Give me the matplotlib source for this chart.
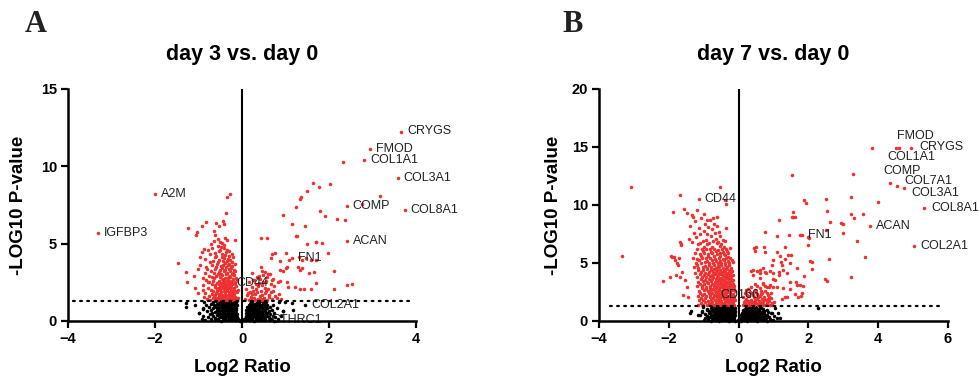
import matplotlib
matplotlib.use("Agg")
import matplotlib.pyplot as plt

plt.rcParams["font.family"] = ["Liberation Sans", "DejaVu Sans"]

RED = "#ee3030"
P_CUTOFF = 1.3  # -log10(0.05)

# ---------------- day 3 vs. day 0 ----------------
d3_genes = ["CRYGS", "FMOD", "COL1A1", "COL3A1", "COMP", "COL8A1", "ACAN",
            "FN1", "CD44", "COL2A1", "CTHRC1", "A2M", "IGFBP3"]
d3_gene_lfc = [3.66, 2.95, 2.81, 3.58, 2.41, 3.74, 2.41, 1.14, -0.26, 1.45, 0.53, -2.01, -3.32]
d3_gene_p = [12.2, 11.1, 10.4, 9.24, 7.41, 7.15, 5.15, 4.05, 2.43, 1.05, 0.06, 8.23, 5.71]

d3_up = [(1.63, 8.94), (1.78, 8.68), (2.03, 8.83), (1.49, 8.38), (1.36, 8.0), (1.33, 7.9),
         (1.25, 7.37), (0.95, 6.85), (1.79, 7.11), (1.91, 6.77), (2.18, 6.62), (2.36, 6.55),
         (3.18, 8.06), (2.75, 7.56), (2.33, 10.3), (1.16, 6.25), (1.44, 6.14), (0.43, 5.34),
         (0.58, 5.39), (1.25, 5.52), (1.49, 4.96), (1.70, 5.11), (1.85, 5.02), (1.97, 4.4),
         (0.68, 4.33), (0.75, 4.37), (1.0, 4.4), (0.66, 4.09), (0.87, 3.88), (1.08, 3.92),
         (1.30, 4.16), (1.38, 3.94), (1.48, 4.05), (1.59, 3.94), (1.69, 3.92), (0.43, 3.47),
         (0.47, 3.25), (0.54, 3.19), (0.49, 2.97), (0.59, 3.02), (0.88, 3.28), (0.95, 3.23),
         (1.0, 3.45), (1.04, 3.51), (1.28, 3.51), (1.33, 3.3), (1.39, 3.41), (1.55, 3.08),
         (1.66, 3.17), (2.12, 3.23), (0.23, 3.1), (0.34, 2.86), (0.25, 2.63), (0.32, 2.39),
         (0.42, 2.7), (0.70, 2.65), (0.82, 2.52), (0.87, 2.61), (1.03, 2.54), (1.06, 2.22),
         (1.22, 2.18), (1.33, 2.05), (1.43, 2.05), (1.59, 2.05), (1.69, 2.48), (2.11, 2.07),
         (2.42, 2.33), (2.54, 2.37), (1.69, 5.09), (1.26, 5.49)]

d3_up_near = [(0.08, 1.42), (0.12, 1.65), (0.15, 1.38), (0.18, 1.9), (0.21, 1.55), (0.24, 2.2),
              (0.27, 1.47), (0.3, 1.75), (0.33, 2.05), (0.36, 1.4), (0.38, 2.45), (0.41, 1.6),
              (0.44, 1.95), (0.47, 2.3), (0.5, 1.5), (0.52, 1.8), (0.55, 2.6), (0.57, 1.35),
              (0.6, 2.1), (0.63, 1.7), (0.66, 2.4), (0.69, 1.45), (0.72, 1.95), (0.76, 1.6),
              (0.1, 2.1), (0.17, 2.55), (0.22, 1.75), (0.28, 2.65), (0.35, 1.85), (0.4, 2.9),
              (0.46, 1.7), (0.53, 2.15), (0.58, 2.85), (0.62, 1.55), (0.67, 1.85), (0.74, 2.25),
              (0.8, 1.5), (0.85, 1.75), (0.9, 1.45), (0.31, 1.38), (0.43, 1.45), (0.49, 2.55),
              (0.26, 1.95), (0.14, 1.8), (0.37, 2.25), (0.71, 2.7), (0.64, 3.05), (0.56, 1.95),
              (0.45, 1.37), (0.2, 1.48)]

d3_down = [(-0.27, 8.23), (-0.34, 8.04), (-0.37, 6.96), (-0.44, 6.46), (-0.42, 6.27),
           (-0.53, 6.14), (-0.59, 6.35), (-0.83, 6.4), (-0.91, 6.12), (-1.04, 5.77),
           (-1.25, 5.99), (-1.05, 5.58), (-0.64, 5.82), (-0.61, 5.56), (-1.47, 3.73),
           (-1.29, 3.15), (-1.26, 2.5), (-1.11, 2.91), (-1.08, 2.15), (-1.02, 1.79),
           (-0.89, 1.98), (-0.87, 4.67), (-0.91, 4.44), (-0.97, 4.15), (-0.83, 3.51),
           (-0.97, 3.62), (-1.02, 3.36), (-0.90, 2.76), (-0.79, 2.54), (-0.15, 5.24)]

d3_down_core = [(-0.88, 1.52), (-0.9, 2.31), (-0.86, 3.08), (-0.84, 1.83), (-0.83, 2.68), (-0.85, 4.02),
                (-0.8, 1.41), (-0.79, 2.12), (-0.81, 3.38), (-0.78, 4.58), (-0.76, 1.63), (-0.75, 2.49),
                (-0.77, 2.93), (-0.74, 3.81), (-0.73, 1.36), (-0.72, 2.03), (-0.71, 3.22), (-0.73, 4.31),
                (-0.72, 4.97), (-0.7, 1.72), (-0.69, 2.41), (-0.7, 2.82), (-0.68, 3.63), (-0.67, 1.46),
                (-0.66, 1.94), (-0.67, 2.61), (-0.65, 3.12), (-0.66, 3.91), (-0.68, 4.72), (-0.64, 1.57),
                (-0.63, 2.22), (-0.64, 2.76), (-0.62, 3.36), (-0.63, 4.11), (-0.65, 5.18), (-0.61, 1.41),
                (-0.6, 1.81), (-0.61, 2.32), (-0.59, 2.91), (-0.6, 3.52), (-0.62, 4.42), (-0.58, 1.51),
                (-0.57, 1.92), (-0.58, 2.46), (-0.56, 3.01), (-0.57, 3.71), (-0.59, 4.21), (-0.56, 4.88),
                (-0.55, 1.36), (-0.54, 1.76), (-0.55, 2.16), (-0.53, 2.61), (-0.54, 3.16), (-0.55, 3.82),
                (-0.53, 4.51), (-0.56, 5.29), (-0.52, 1.61), (-0.51, 2.01), (-0.52, 2.36), (-0.5, 2.86),
                (-0.51, 3.31), (-0.52, 3.96), (-0.5, 4.62), (-0.49, 1.46), (-0.48, 1.86), (-0.49, 2.26),
                (-0.47, 2.71), (-0.48, 3.06), (-0.49, 3.56), (-0.47, 4.16), (-0.48, 4.81), (-0.5, 5.12),
                (-0.46, 1.41), (-0.45, 1.71), (-0.46, 2.11), (-0.44, 2.51), (-0.45, 2.96), (-0.46, 3.41),
                (-0.44, 3.91), (-0.45, 4.36), (-0.46, 5.02), (-0.43, 1.56), (-0.42, 1.96), (-0.43, 2.31),
                (-0.41, 2.66), (-0.42, 3.21), (-0.43, 3.61), (-0.41, 4.06), (-0.42, 4.71), (-0.4, 1.36),
                (-0.39, 1.76), (-0.4, 2.06), (-0.38, 2.46), (-0.39, 2.81), (-0.4, 3.31), (-0.38, 3.76),
                (-0.39, 4.26), (-0.41, 4.91), (-0.4, 5.38), (-0.37, 1.51), (-0.36, 1.91), (-0.37, 2.21),
                (-0.35, 2.61), (-0.36, 3.01), (-0.37, 3.46), (-0.35, 3.86), (-0.36, 4.46), (-0.34, 1.41),
                (-0.33, 1.66), (-0.34, 2.01), (-0.32, 2.41), (-0.33, 2.76), (-0.34, 3.11), (-0.32, 3.61),
                (-0.33, 4.01), (-0.35, 4.61), (-0.34, 5.21), (-0.31, 1.56), (-0.3, 1.86), (-0.31, 2.31),
                (-0.29, 2.56), (-0.3, 2.91), (-0.31, 3.36), (-0.29, 3.71), (-0.3, 4.21), (-0.28, 1.36),
                (-0.27, 1.71), (-0.28, 2.11), (-0.26, 2.46), (-0.27, 2.86), (-0.28, 3.21), (-0.26, 3.51),
                (-0.27, 3.96), (-0.29, 4.51), (-0.25, 1.46), (-0.24, 1.81), (-0.25, 2.21), (-0.23, 2.61),
                (-0.24, 3.06), (-0.25, 3.41), (-0.23, 3.81), (-0.24, 4.31), (-0.22, 1.61), (-0.21, 1.96),
                (-0.22, 2.36), (-0.2, 2.71), (-0.21, 3.11), (-0.22, 3.56), (-0.2, 4.11), (-0.19, 1.41),
                (-0.18, 1.76), (-0.19, 2.16), (-0.17, 2.51), (-0.18, 2.96), (-0.19, 3.31), (-0.17, 3.71),
                (-0.16, 1.56), (-0.15, 1.91), (-0.16, 2.41), (-0.14, 2.81), (-0.15, 3.26), (-0.13, 1.46),
                (-0.12, 1.86), (-0.13, 2.26), (-0.11, 2.66), (-0.1, 1.51), (-0.09, 2.01),
                (-0.62, 1.66), (-0.57, 1.33), (-0.53, 1.48), (-0.47, 1.55), (-0.44, 1.33), (-0.38, 1.62),
                (-0.35, 1.38), (-0.31, 1.72), (-0.27, 1.52), (-0.24, 1.34), (-0.21, 1.49), (-0.18, 1.63),
                (-0.58, 2.08), (-0.5, 2.18), (-0.41, 2.18), (-0.33, 2.16), (-0.26, 2.03), (-0.48, 2.44),
                (-0.36, 2.35), (-0.29, 2.4)]

d3_flat = [(-0.86, 0.04), (-0.63, 0.05), (-0.49, 0.03), (-0.36, 0.06), (-0.23, 0.04), (-0.12, 0.05),
           (-0.04, 0.03), (0.03, 0.05), (0.1, 0.04), (0.19, 0.06), (0.28, 0.03), (0.37, 0.05),
           (0.48, 0.04), (0.61, 0.06), (0.73, 0.03),
           (-0.92, 0.13), (-0.71, 0.12), (-0.56, 0.14), (-0.42, 0.13), (-0.3, 0.15), (-0.19, 0.12),
           (-0.09, 0.14), (0.05, 0.13), (0.14, 0.15), (0.23, 0.12), (0.33, 0.14), (0.43, 0.13),
           (0.54, 0.15), (0.67, 0.12), (0.83, 0.14),
           (-0.78, 0.23), (-0.61, 0.22), (-0.47, 0.24), (-0.36, 0.23), (-0.26, 0.25), (-0.16, 0.22),
           (0.09, 0.24), (0.19, 0.23), (0.29, 0.25), (0.39, 0.22), (0.5, 0.24), (0.62, 0.23), (0.77, 0.25),
           (-0.89, 0.33), (-0.66, 0.32), (-0.53, 0.34), (-0.42, 0.33), (-0.32, 0.35), (-0.22, 0.32),
           (-0.13, 0.34), (0.1, 0.33), (0.18, 0.35), (0.26, 0.32), (0.35, 0.34), (0.45, 0.33),
           (0.57, 0.35), (0.71, 0.32), (0.9, 0.34),
           (-0.74, 0.43), (-0.58, 0.42), (-0.46, 0.44), (-0.37, 0.43), (-0.27, 0.45), (-0.17, 0.42),
           (0.12, 0.44), (0.21, 0.43), (0.3, 0.45), (0.4, 0.42), (0.52, 0.44), (0.64, 0.43),
           (-0.98, 0.52), (-0.69, 0.51), (-0.55, 0.53), (-0.44, 0.52), (-0.33, 0.54), (-0.23, 0.51),
           (-0.14, 0.53), (0.09, 0.52), (0.17, 0.54), (0.27, 0.51), (0.36, 0.53), (0.46, 0.52),
           (0.57, 0.54), (0.74, 0.51),
           (-0.81, 0.62), (-0.62, 0.61), (-0.5, 0.63), (-0.39, 0.62), (-0.29, 0.64), (-0.19, 0.61),
           (0.13, 0.63), (0.22, 0.62), (0.32, 0.64), (0.42, 0.61), (0.52, 0.63), (0.63, 0.62), (0.95, 0.64),
           (-0.72, 0.72), (-0.57, 0.71), (-0.45, 0.73), (-0.35, 0.72), (-0.25, 0.74), (-0.15, 0.71),
           (0.1, 0.73), (0.19, 0.72), (0.28, 0.74), (0.4, 0.71), (0.53, 0.73), (0.68, 0.72),
           (-0.9, 0.82), (-0.66, 0.81), (-0.52, 0.83), (-0.41, 0.82), (-0.31, 0.84), (-0.21, 0.81),
           (-0.13, 0.83), (0.14, 0.82), (0.23, 0.84), (0.33, 0.81), (0.45, 0.83), (0.58, 0.82), (0.8, 0.84),
           (-0.76, 0.92), (-0.6, 0.91), (-0.47, 0.93), (-0.37, 0.92), (-0.27, 0.94), (-0.17, 0.91),
           (0.11, 0.93), (0.2, 0.92), (0.3, 0.94), (0.41, 0.91), (0.52, 0.93), (0.64, 0.92),
           (-1.08, 1.02), (-0.83, 1.01), (-0.64, 1.03), (-0.52, 1.02), (-0.42, 1.04), (-0.32, 1.01),
           (-0.22, 1.03), (-0.14, 1.02), (0.15, 1.04), (0.25, 1.01), (0.35, 1.03), (0.46, 1.02),
           (0.58, 1.04), (0.72, 1.01),
           (-0.71, 1.12), (-0.58, 1.11), (-0.46, 1.13), (-0.36, 1.12), (-0.26, 1.14), (-0.16, 1.11),
           (0.18, 1.13), (0.28, 1.12), (0.39, 1.14), (0.5, 1.11), (1.14, 1.18),
           (-1.29, 1.18), (-0.88, 1.22), (-0.66, 1.21), (-0.54, 1.23), (-0.43, 1.22), (-0.33, 1.24),
           (-0.23, 1.21), (-0.14, 1.23), (0.21, 1.22), (0.34, 1.24), (0.48, 1.21), (0.99, 1.2),
           (-0.55, 0.08), (-0.43, 0.09), (-0.28, 0.07), (-0.16, 0.08), (-0.08, 0.09), (0.0, 0.07),
           (0.07, 0.08), (0.16, 0.09), (0.24, 0.07), (0.32, 0.08), (0.41, 0.09), (0.52, 0.07),
           (-0.51, 0.28), (-0.4, 0.27), (-0.3, 0.29), (-0.2, 0.28), (-0.11, 0.27), (0.14, 0.29),
           (0.23, 0.28), (0.33, 0.27), (0.44, 0.29),
           (-0.5, 0.47), (-0.4, 0.48), (-0.3, 0.46), (-0.2, 0.47), (-0.12, 0.48), (0.15, 0.46),
           (0.25, 0.47), (0.35, 0.48), (0.47, 0.46),
           (-0.53, 0.67), (-0.43, 0.68), (-0.33, 0.66), (-0.22, 0.67), (-0.13, 0.68), (0.16, 0.66),
           (0.26, 0.67), (0.37, 0.68), (0.47, 0.66),
           (-0.56, 0.87), (-0.45, 0.88), (-0.34, 0.86), (-0.24, 0.87), (-0.15, 0.88), (0.17, 0.86),
           (0.27, 0.87), (0.38, 0.88), (0.5, 0.86),
           (-0.55, 1.07), (-0.47, 1.08), (-0.38, 1.06), (-0.28, 1.07), (-0.19, 1.08), (-0.12, 1.06),
           (0.2, 1.07), (0.31, 1.08), (0.42, 1.06),
           (-0.6, 1.27), (-0.49, 1.28), (-0.39, 1.26), (-0.29, 1.27), (-0.19, 1.28), (-0.13, 1.26),
           (0.24, 1.27), (0.42, 1.28), (0.55, 1.26),
           (-1.29, 0.9), (-1.0, 0.5), (-0.9, 0.8), (1.18, 0.71), (0.95, 0.67), (0.85, 1.25)]

# ---------------- day 7 vs. day 0 ----------------
d7_genes = ["FMOD", "CRYGS", "COL1A1", "COMP", "COL7A1", "COL3A1", "COL8A1",
            "ACAN", "COL2A1", "FN1", "CD44", "CD166"]
d7_gene_lfc = [4.60, 4.95, 4.50, 4.34, 4.54, 4.75, 5.31, 3.77, 5.03, 1.81, -1.14, -0.70]
d7_gene_p = [14.94, 14.94, 14.94, 11.92, 11.64, 11.44, 9.77, 8.16, 6.49, 7.41, 10.54, 2.24]

d7_up = [(3.83, 14.94), (1.52, 12.56), (3.27, 12.67), (1.86, 10.43), (1.93, 10.17), (2.51, 10.49),
         (3.21, 10.72), (3.99, 10.23), (2.52, 9.48), (1.55, 9.42), (1.57, 8.99), (1.52, 8.94),
         (1.62, 8.94), (1.17, 8.73), (3.22, 9.2), (3.32, 8.91), (3.57, 9.25), (2.63, 8.53),
         (2.93, 8.47), (2.98, 8.36), (2.51, 7.84), (3.0, 7.56), (0.76, 7.7), (1.11, 7.35),
         (1.44, 7.41), (1.76, 7.39), (2.0, 7.22), (3.40, 6.92), (0.50, 6.38), (0.47, 6.06),
         (0.73, 6.41), (0.75, 5.97), (1.09, 5.97), (1.19, 5.58), (1.42, 5.69), (1.5, 5.69),
         (1.34, 5.32), (1.47, 4.97), (1.23, 4.83), (2.05, 5.2), (2.59, 5.32), (3.62, 5.54),
         (3.22, 3.82), (1.88, 3.91), (2.11, 4.48), (2.48, 3.62), (2.52, 3.45), (0.36, 4.34),
         (0.41, 3.97), (0.52, 4.31), (0.62, 4.11), (0.71, 4.54), (0.79, 4.11), (0.90, 4.31),
         (0.98, 4.11), (1.04, 3.53), (1.17, 3.94), (1.38, 4.11), (1.47, 3.39), (1.64, 3.39),
         (1.76, 3.1), (1.81, 2.39), (1.62, 2.33), (1.38, 2.09), (1.23, 1.87), (0.99, 2.96),
         (0.80, 2.96), (1.33, 2.04), (1.78, 2.16), (1.84, 3.02), (1.66, 4.54), (2.03, 7.18),
         (2.09, 5.11), (1.98, 6.55), (0.45, 6.27), (1.33, 6.41), (1.21, 5.11), (0.99, 5.26),
         (0.95, 4.83), (0.61, 4.4), (0.76, 4.25), (1.17, 4.25), (1.28, 4.4), (0.42, 4.4),
         (0.61, 3.68), (0.98, 3.59), (0.71, 3.25), (0.90, 3.1), (1.09, 2.96), (1.28, 2.82),
         (1.47, 2.73), (1.66, 3.1), (1.71, 2.09)]

d7_up_near = [(0.12, 1.38), (0.16, 1.62), (0.2, 1.45), (0.22, 1.9), (0.25, 1.35), (0.28, 1.72),
              (0.31, 2.12), (0.33, 1.5), (0.36, 1.85), (0.38, 2.45), (0.41, 1.4), (0.43, 1.68),
              (0.45, 2.05), (0.47, 2.7), (0.5, 1.55), (0.52, 1.92), (0.54, 2.3), (0.56, 1.38),
              (0.58, 1.75), (0.6, 2.15), (0.62, 2.85), (0.64, 1.5), (0.66, 1.88), (0.68, 2.42),
              (0.7, 1.62), (0.72, 2.05), (0.75, 1.4), (0.77, 2.6), (0.79, 1.8), (0.82, 1.52),
              (0.84, 2.2), (0.87, 1.7), (0.9, 1.42), (0.93, 1.95), (0.97, 1.55), (1.02, 1.65),
              (0.14, 2.05), (0.19, 2.4), (0.24, 2.2), (0.27, 2.75), (0.3, 1.42), (0.35, 2.95),
              (0.4, 2.25), (0.44, 1.36), (0.49, 2.5), (0.53, 3.05), (0.57, 2.05), (0.61, 1.6),
              (0.65, 2.6), (0.69, 3.2), (0.74, 1.9), (0.8, 2.4), (0.86, 2.9), (0.92, 2.45),
              (0.18, 1.75), (0.29, 1.58), (0.39, 1.62), (0.48, 1.82), (0.59, 1.45), (0.71, 1.35),
              (0.83, 1.88), (0.95, 1.38), (0.21, 2.65), (0.34, 2.5), (0.46, 3.2), (0.63, 2.35),
              (0.76, 3.0), (0.88, 2.1)]

d7_down = [(-3.08, 11.55), (-3.34, 5.6), (-1.67, 10.89), (-0.53, 11.53), (-1.87, 9.42),
           (-1.56, 9.63), (-1.49, 9.28), (-1.20, 9.57), (-0.39, 10.43), (-0.36, 10.06),
           (-2.17, 3.45), (-1.93, 5.6), (-1.84, 5.49), (-1.70, 5.4), (-1.97, 3.77), (-1.80, 3.99),
           (-1.68, 3.82), (-1.63, 4.25), (-1.76, 4.97), (-1.65, 6.64), (-1.60, 2.24), (-1.44, 2.09),
           (-1.49, 2.96), (-1.54, 3.53), (-1.34, 9.14), (-0.91, 8.71), (-0.63, 8.94), (-1.68, 6.84),
           (-1.66, 6.55), (-1.92, 5.54), (-1.82, 5.26), (-1.73, 4.83),
           (-1.42, 7.1), (-1.38, 8.2), (-1.33, 6.8), (-1.29, 7.6), (-1.25, 8.6), (-1.21, 7.2),
           (-1.17, 6.6), (-1.14, 8.0), (-1.1, 7.5), (-1.07, 8.9), (-1.03, 6.9), (-1.0, 7.8),
           (-0.97, 8.4), (-0.94, 7.0), (-0.91, 7.5), (-0.88, 8.1), (-0.85, 6.7), (-0.82, 8.7),
           (-0.79, 7.3), (-0.76, 7.9), (-0.73, 6.9), (-0.7, 8.4), (-0.67, 7.6), (-0.64, 7.1),
           (-0.61, 8.2), (-0.58, 6.8), (-0.55, 7.7), (-0.52, 7.3), (-0.49, 6.6), (-0.46, 7.0),
           (-1.3, 9.0), (-0.98, 9.2), (-0.74, 8.9), (-1.12, 6.7), (-0.9, 6.6), (-0.62, 6.7),
           (-0.4, 6.9), (-0.35, 8.0)]

d7_down_core = [(-1.16, 1.38), (-1.03, 1.42), (-0.91, 1.35), (-0.8, 1.44), (-0.7, 1.37), (-0.61, 1.41),
                (-0.52, 1.36), (-0.43, 1.45), (-0.35, 1.39), (-0.27, 1.34), (-0.19, 1.43), (-0.12, 1.37),
                (-1.09, 1.58), (-0.97, 1.63), (-0.85, 1.55), (-0.75, 1.61), (-0.65, 1.57), (-0.56, 1.64),
                (-0.47, 1.56), (-0.39, 1.6), (-0.31, 1.66), (-0.23, 1.54), (-0.15, 1.62),
                (-1.14, 1.79), (-1.01, 1.83), (-0.89, 1.76), (-0.78, 1.84), (-0.68, 1.78), (-0.59, 1.81),
                (-0.5, 1.75), (-0.41, 1.86), (-0.33, 1.8), (-0.25, 1.77), (-0.17, 1.85), (-0.1, 1.79),
                (-1.07, 2.02), (-0.95, 1.97), (-0.83, 2.04), (-0.73, 1.99), (-0.63, 2.05), (-0.54, 1.96),
                (-0.45, 2.03), (-0.37, 1.98), (-0.29, 2.06), (-0.21, 2.0), (-0.13, 1.95),
                (-1.17, 2.18), (-1.04, 2.23), (-0.92, 2.16), (-0.81, 2.24), (-0.71, 2.19), (-0.62, 2.21),
                (-0.53, 2.15), (-0.44, 2.26), (-0.36, 2.2), (-0.28, 2.17), (-0.2, 2.25), (-0.12, 2.19),
                (-1.1, 2.42), (-0.98, 2.37), (-0.86, 2.44), (-0.76, 2.39), (-0.66, 2.45), (-0.57, 2.36),
                (-0.48, 2.43), (-0.4, 2.38), (-0.32, 2.46), (-0.24, 2.4), (-0.16, 2.35),
                (-1.13, 2.58), (-1.0, 2.63), (-0.88, 2.56), (-0.79, 2.64), (-0.69, 2.59), (-0.6, 2.61),
                (-0.51, 2.55), (-0.42, 2.66), (-0.34, 2.6), (-0.26, 2.57), (-0.18, 2.65), (-0.11, 2.6),
                (-1.06, 2.82), (-0.94, 2.77), (-0.83, 2.84), (-0.73, 2.79), (-0.64, 2.85), (-0.55, 2.76),
                (-0.46, 2.83), (-0.38, 2.78), (-0.3, 2.86), (-0.22, 2.8), (-0.14, 2.75),
                (-1.18, 3.0), (-1.05, 3.04), (-0.92, 2.97), (-0.81, 3.05), (-0.71, 2.99), (-0.62, 3.02),
                (-0.53, 2.96), (-0.44, 3.06), (-0.36, 3.0), (-0.28, 2.98), (-0.2, 3.04), (-0.13, 2.99),
                (-1.11, 3.22), (-0.99, 3.17), (-0.87, 3.24), (-0.77, 3.19), (-0.67, 3.25), (-0.58, 3.16),
                (-0.49, 3.23), (-0.41, 3.18), (-0.33, 3.26), (-0.25, 3.2), (-0.17, 3.15),
                (-1.15, 3.38), (-1.02, 3.43), (-0.9, 3.36), (-0.79, 3.44), (-0.69, 3.39), (-0.6, 3.41),
                (-0.51, 3.35), (-0.43, 3.46), (-0.35, 3.4), (-0.27, 3.37), (-0.19, 3.45),
                (-1.08, 3.62), (-0.96, 3.57), (-0.85, 3.64), (-0.75, 3.59), (-0.65, 3.65), (-0.56, 3.56),
                (-0.47, 3.63), (-0.39, 3.58), (-0.31, 3.66), (-0.23, 3.6), (-0.15, 3.55),
                (-1.2, 3.79), (-1.06, 3.83), (-0.94, 3.76), (-0.83, 3.84), (-0.72, 3.78), (-0.63, 3.81),
                (-0.54, 3.75), (-0.45, 3.86), (-0.37, 3.8), (-0.29, 3.77), (-0.21, 3.85),
                (-1.12, 4.02), (-1.0, 3.97), (-0.88, 4.04), (-0.77, 3.99), (-0.67, 4.05), (-0.58, 3.96),
                (-0.49, 4.03), (-0.41, 3.98), (-0.33, 4.06), (-0.25, 4.0), (-0.17, 3.95),
                (-1.24, 4.18), (-1.09, 4.23), (-0.96, 4.16), (-0.85, 4.24), (-0.74, 4.19), (-0.65, 4.21),
                (-0.56, 4.15), (-0.47, 4.26), (-0.39, 4.2), (-0.31, 4.17), (-0.23, 4.25),
                (-1.16, 4.42), (-1.03, 4.37), (-0.91, 4.44), (-0.8, 4.39), (-0.7, 4.45), (-0.61, 4.36),
                (-0.52, 4.43), (-0.43, 4.38), (-0.35, 4.46), (-0.27, 4.4), (-0.19, 4.35),
                (-1.28, 4.62), (-1.15, 4.57), (-1.02, 4.64), (-0.9, 4.59), (-0.78, 4.65), (-0.66, 4.56),
                (-0.55, 4.63), (-0.44, 4.58), (-0.33, 4.66), (-0.22, 4.6),
                (-1.2, 4.82), (-0.97, 4.78), (-0.84, 4.85), (-0.71, 4.8), (-0.6, 4.76), (-0.49, 4.84),
                (-0.39, 4.79), (-0.28, 4.83),
                (-1.22, 5.02), (-1.09, 4.97), (-0.96, 5.05), (-0.84, 4.99), (-0.72, 5.03), (-0.6, 4.96),
                (-0.49, 5.04), (-0.38, 5.0), (-0.27, 4.98), (-0.17, 5.06),
                (-1.13, 5.22), (-0.9, 5.18), (-0.77, 5.25), (-0.64, 5.2), (-0.53, 5.16), (-0.42, 5.24),
                (-0.31, 5.19), (-0.2, 5.23),
                (-1.31, 5.42), (-1.18, 5.37), (-1.05, 5.44), (-0.93, 5.39), (-0.81, 5.45), (-0.69, 5.36),
                (-0.57, 5.43), (-0.46, 5.38), (-0.35, 5.46), (-0.24, 5.4),
                (-1.07, 5.62), (-0.88, 5.57), (-0.7, 5.64), (-0.54, 5.59), (-0.4, 5.65), (-0.29, 5.56),
                (-1.25, 5.82), (-1.12, 5.77), (-0.99, 5.84), (-0.87, 5.79), (-0.75, 5.85), (-0.63, 5.76),
                (-0.52, 5.83), (-0.41, 5.78), (-0.3, 5.86),
                (-1.01, 6.02), (-0.79, 5.97), (-0.66, 6.04), (-0.45, 5.99), (-0.34, 6.05),
                (-1.19, 6.22), (-1.06, 6.17), (-0.94, 6.24), (-0.82, 6.19), (-0.7, 6.25), (-0.58, 6.16),
                (-0.47, 6.23), (-0.36, 6.18), (-0.25, 6.26),
                (-0.98, 6.42), (-0.76, 6.37), (-0.53, 6.44), (-0.43, 6.39)]

d7_flat = [(-1.0, 0.05), (-0.8, 0.04), (-0.66, 0.06), (-0.55, 0.03), (-0.45, 0.05), (-0.36, 0.07),
           (-0.27, 0.04), (-0.18, 0.06), (-0.1, 0.03), (-0.03, 0.05), (0.06, 0.04), (0.15, 0.06),
           (0.24, 0.03), (0.33, 0.05), (0.43, 0.07), (0.54, 0.04), (0.66, 0.06), (0.8, 0.03), (0.98, 0.05),
           (-0.88, 0.15), (-0.72, 0.13), (-0.6, 0.16), (-0.5, 0.14), (-0.41, 0.17), (-0.32, 0.15),
           (-0.23, 0.13), (-0.14, 0.16), (0.1, 0.14), (0.19, 0.17), (0.28, 0.15), (0.38, 0.13),
           (0.48, 0.16), (0.6, 0.14), (0.73, 0.17), (0.9, 0.15),
           (-0.95, 0.26), (-0.77, 0.24), (-0.64, 0.27), (-0.53, 0.25), (-0.44, 0.28), (-0.35, 0.26),
           (-0.26, 0.24), (-0.17, 0.27), (0.13, 0.25), (0.22, 0.28), (0.31, 0.26), (0.41, 0.24),
           (0.52, 0.27), (0.64, 0.25), (0.78, 0.28), (1.1, 0.26),
           (-0.83, 0.36), (-0.69, 0.34), (-0.58, 0.37), (-0.48, 0.35), (-0.39, 0.38), (-0.3, 0.36),
           (-0.21, 0.34), (-0.12, 0.37), (0.16, 0.35), (0.25, 0.38), (0.35, 0.36), (0.45, 0.34),
           (0.56, 0.37), (0.69, 0.35), (0.86, 0.38),
           (-0.9, 0.46), (-0.74, 0.44), (-0.62, 0.47), (-0.52, 0.45), (-0.43, 0.48), (-0.34, 0.46),
           (-0.25, 0.44), (-0.16, 0.47), (0.12, 0.45), (0.21, 0.48), (0.3, 0.46), (0.4, 0.44),
           (0.5, 0.47), (0.62, 0.45), (0.76, 0.48), (1.0, 0.46),
           (-1.12, 0.56), (-0.79, 0.54), (-0.66, 0.57), (-0.56, 0.55), (-0.46, 0.58), (-0.37, 0.56),
           (-0.28, 0.54), (-0.19, 0.57), (-0.11, 0.55), (0.15, 0.58), (0.24, 0.56), (0.34, 0.54),
           (0.44, 0.57), (0.55, 0.55), (0.67, 0.58), (0.82, 0.56),
           (-0.86, 0.66), (-0.71, 0.64), (-0.6, 0.67), (-0.5, 0.65), (-0.41, 0.68), (-0.32, 0.66),
           (-0.23, 0.64), (-0.14, 0.67), (0.11, 0.65), (0.2, 0.68), (0.29, 0.66), (0.39, 0.64),
           (0.49, 0.67), (0.6, 0.65), (0.73, 0.68), (0.94, 0.66),
           (-0.78, 0.76), (-0.65, 0.74), (-0.54, 0.77), (-0.45, 0.75), (-0.36, 0.78), (-0.27, 0.76),
           (-0.18, 0.74), (-0.11, 0.77), (0.14, 0.75), (0.23, 0.78), (0.33, 0.76), (0.43, 0.74),
           (0.54, 0.77), (0.66, 0.75), (0.84, 0.78),
           (-1.06, 0.86), (-0.84, 0.84), (-0.7, 0.87), (-0.59, 0.85), (-0.49, 0.88), (-0.4, 0.86),
           (-0.31, 0.84), (-0.22, 0.87), (-0.13, 0.85), (0.17, 0.88), (0.27, 0.86), (0.37, 0.84),
           (0.47, 0.87), (0.59, 0.85), (0.72, 0.88),
           (-0.76, 0.96), (-0.63, 0.94), (-0.53, 0.97), (-0.44, 0.95), (-0.35, 0.98), (-0.26, 0.96),
           (-0.17, 0.94), (0.13, 0.97), (0.24, 0.95), (0.35, 0.98), (0.46, 0.96), (0.58, 0.94), (0.8, 0.97),
           (-0.9, 1.06), (-0.71, 1.04), (-0.58, 1.07), (-0.48, 1.05), (-0.39, 1.08), (-0.3, 1.06),
           (-0.21, 1.04), (-0.12, 1.07), (0.18, 1.05), (0.3, 1.08), (0.42, 1.06), (0.55, 1.04), (0.69, 1.07),
           (-0.66, 1.16), (-0.55, 1.14), (-0.45, 1.17), (-0.36, 1.15), (-0.27, 1.18), (-0.18, 1.16),
           (-0.11, 1.14), (0.2, 1.17), (0.34, 1.15), (0.5, 1.18), (0.65, 1.16),
           (-1.01, 1.23), (-0.72, 1.26), (-0.6, 1.24), (-0.5, 1.27), (-0.41, 1.25), (-0.32, 1.28),
           (-0.23, 1.26), (-0.14, 1.24), (0.25, 1.27), (0.45, 1.25), (0.62, 1.28),
           (-0.62, 0.1), (-0.47, 0.09), (-0.33, 0.11), (-0.2, 0.1), (-0.12, 0.09), (0.02, 0.11),
           (0.21, 0.1), (0.37, 0.09), (0.5, 0.11),
           (-0.67, 0.31), (-0.51, 0.3), (-0.37, 0.32), (-0.24, 0.31), (0.08, 0.3), (0.19, 0.32),
           (0.38, 0.31), (0.48, 0.3),
           (-0.7, 0.51), (-0.54, 0.5), (-0.4, 0.52), (-0.27, 0.51), (-0.13, 0.5), (0.08, 0.52),
           (0.18, 0.51), (0.36, 0.5), (0.47, 0.52),
           (-0.63, 0.71), (-0.48, 0.7), (-0.34, 0.72), (-0.2, 0.71), (0.16, 0.7), (0.26, 0.72), (0.41, 0.71),
           (-0.66, 0.91), (-0.52, 0.9), (-0.38, 0.92), (-0.25, 0.91), (-0.1, 0.9), (0.2, 0.92),
           (0.31, 0.91), (0.52, 0.9),
           (-0.79, 1.11), (-0.62, 1.1), (-0.42, 1.12), (-0.24, 1.11), (0.26, 1.1), (0.38, 1.12),
           (-0.52, 1.21), (-0.37, 1.2), (-0.19, 1.22), (0.29, 1.21), (0.4, 1.2),
           (-1.39, 0.66), (-1.37, 0.86), (-1.15, 0.52), (-1.06, 0.8), (-0.96, 0.6), (-0.9, 0.95),
           (1.04, 1.09), (1.14, 0.66), (1.19, 0.23), (0.95, 0.66), (2.28, 1.15)]

# label placement, in pixels from each labelled point
d3_label_offsets = {g: (6, 0) for g in d3_genes}
d3_label_offsets["CRYGS"] = (6, 1)
d7_label_offsets = {"FMOD": (-2, 12), "CRYGS": (8, 1), "COL1A1": (-8, -9),
                    "COMP": (-7, 12), "COL7A1": (7, 5), "COL3A1": (7, -5),
                    "COL8A1": (7, 0), "ACAN": (6, 0), "COL2A1": (6, 0),
                    "FN1": (6, 0), "CD44": (6, 0), "CD166": (6, 0)}


def draw_volcano(ax, groups, genes, g_lfc, g_p, offsets, xlim, ylim, xticks, yticks,
                 title, cut_span, ylabel_x):
    xs, ys = [], []
    for grp in groups:
        for x, y in grp:
            xs.append(x)
            ys.append(y)
    xs += list(g_lfc)
    ys += list(g_p)
    ns = [(x, y) for x, y in zip(xs, ys) if y <= P_CUTOFF]
    sig = [(x, y) for x, y in zip(xs, ys) if y > P_CUTOFF]

    ax.axvline(0, color="black", lw=1.5, zorder=1)
    ax.scatter([p[0] for p in ns], [p[1] for p in ns], s=6.5, c="black",
               linewidths=0, zorder=2, clip_on=False)
    ax.scatter([p[0] for p in sig], [p[1] for p in sig], s=6.5, c=RED,
               linewidths=0, zorder=3, clip_on=False)
    ax.axhline(P_CUTOFF, xmin=cut_span[0], xmax=cut_span[1], color="black",
               lw=1.6, ls=(0, (0.8, 2.4)), dash_capstyle="round", zorder=4)

    for g, x, y in zip(genes, g_lfc, g_p):
        ax.annotate(g, (x, y), xytext=offsets[g], textcoords="offset pixels",
                    ha="left", va="center", fontsize=9, color="#222222",
                    zorder=5, annotation_clip=False)

    ax.set_xlim(*xlim)
    ax.set_ylim(*ylim)
    ax.set_xticks(xticks)
    ax.set_yticks(yticks)
    for side in ("top", "right"):
        ax.spines[side].set_visible(False)
    for side in ("left", "bottom"):
        ax.spines[side].set_linewidth(1.8)
        ax.spines[side].set_zorder(6)
    ax.tick_params(direction="out", length=5, width=1.6, labelsize=10.5, pad=3)
    for lab in ax.get_xticklabels() + ax.get_yticklabels():
        lab.set_fontweight("bold")
    ax.set_title(title, fontsize=15.5, fontweight="bold", pad=21)
    ax.set_xlabel("Log2 Ratio", fontsize=13.5, fontweight="bold")
    ax.set_ylabel("-LOG10 P-value", fontsize=13.5, fontweight="bold")
    ax.xaxis.set_label_coords(0.5, -0.165)
    ax.yaxis.set_label_coords(ylabel_x, 0.5)


fig = plt.figure(figsize=(9.8, 3.8), dpi=100)
ax_a = fig.add_axes([68 / 980, 59 / 380, 348 / 980, 232 / 380])
ax_b = fig.add_axes([599 / 980, 59 / 380, 349 / 980, 232 / 380])

draw_volcano(ax_a, [d3_flat, d3_down_core, d3_down, d3_up_near, d3_up],
             d3_genes, d3_gene_lfc, d3_gene_p, d3_label_offsets,
             (-4, 4), (0, 15), [-4, -2, 0, 2, 4], [0, 5, 10, 15],
             "day 3 vs. day 0", (0.015, 0.985), -0.118)
draw_volcano(ax_b, [d7_flat, d7_down_core, d7_down, d7_up_near, d7_up],
             d7_genes, d7_gene_lfc, d7_gene_p, d7_label_offsets,
             (-4, 6), (0, 20), [-4, -2, 0, 2, 4, 6], [0, 5, 10, 15, 20],
             "day 7 vs. day 0", (0.032, 0.98), -0.106)

fig.text(36 / 980, 1 - 24 / 380, "A", fontsize=22, fontweight="bold",
         family=["Liberation Serif", "DejaVu Serif"], ha="center", va="center", color="#222222")
fig.text(573 / 980, 1 - 24 / 380, "B", fontsize=22, fontweight="bold",
         family=["Liberation Serif", "DejaVu Serif"], ha="center", va="center", color="#222222")

fig.savefig("out.png", dpi=100)
